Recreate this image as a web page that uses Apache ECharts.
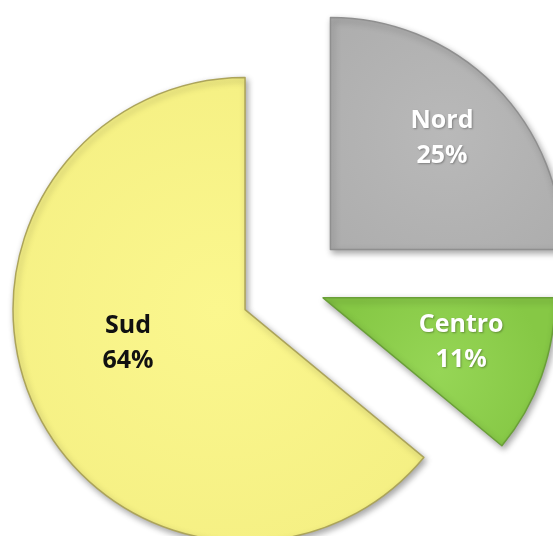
<!DOCTYPE html>
<html>
<head>
<meta charset="utf-8">
<script src="https://cdn.jsdelivr.net/npm/echarts@6/dist/echarts.min.js"></script>
<style>
html, body { margin: 0; padding: 0; background: #fff; }
#main { width: 553px; height: 536px; }
</style>
</head>
<body>
<div id="main"></div>
<script>
// dati
var regioni = ['Nord', 'Centro', 'Sud'];
var quote = [25, 11, 64];

// stile di ogni fetta
var colori = [['#b9b9b9', '#adadad'], ['#96d656', '#86c845'], ['#fbf78e', '#f4ef82']];
var bordi = ['#8f8f8f', '#6a9f38', '#aca45a'];
var coloriTesto = ['#ffffff', '#ffffff', '#111111'];
var stacco = [53, 32, 53];          // esplosione (px)
var posEtichetta = [0.68, 0.625, 0.525];
var angEtichetta = [0, -2, 9];      // gradi

var centro = [293, 287];
var raggio = 232;

var myChart = echarts.init(document.getElementById('main'));

var totale = 0;
for (var i = 0; i < quote.length; i++) totale += quote[i];

var series = [];
var cumulato = 0;
for (var i = 0; i < quote.length; i++) {
	// angolo medio, in senso orario dalle ore 12
	var theta = (cumulato + quote[i] / 2) / totale * 2 * Math.PI;
	cumulato += quote[i];
	var cx = centro[0] + stacco[i] * Math.sin(theta);
	var cy = centro[1] - stacco[i] * Math.cos(theta);
	var thetaL = theta + angEtichetta[i] * Math.PI / 180;
	var lx = cx + posEtichetta[i] * raggio * Math.sin(thetaL);
	var ly = cy - posEtichetta[i] * raggio * Math.cos(thetaL);

	var dati = [];
	for (var j = 0; j < quote.length; j++) {
		if (j == i) {
			dati.push({
				name : regioni[j],
				value : quote[j],
				itemStyle : {
					color : {
						type : 'radial', x : 0.5, y : 0.5, r : 0.7,
						colorStops : [ { offset : 0, color : colori[j][0] }, { offset : 1, color : colori[j][1] } ]
					},
					borderColor : bordi[j],
					borderWidth : 1.5,
					shadowBlur : 6,
					shadowOffsetX : 2,
					shadowOffsetY : 3,
					shadowColor : 'rgba(0,0,0,0.35)'
				},
				label : {
					show : true,
					color : coloriTesto[j],
					textShadowColor : j == 2 ? 'transparent' : 'rgba(0,0,0,0.3)',
					textShadowBlur : 2,
					textShadowOffsetX : 1,
					textShadowOffsetY : 1
				}
			});
		} else {
			dati.push({
				name : regioni[j],
				value : quote[j],
				itemStyle : { color : 'rgba(0,0,0,0)', borderWidth : 0 },
				label : { show : false }
			});
		}
	}

	series.push({
		type : 'pie',
		center : [ cx, cy ],
		radius : [ 0, raggio ],
		startAngle : 90,
		clockwise : true,
		silent : true,
		emphasis : { disabled : true },
		labelLine : { show : false },
		label : {
			position : 'inside',
			formatter : '{b}\n{d}%',
			fontFamily : 'Open Sans',
			fontWeight : 'bold',
			fontSize : 25,
			lineHeight : 35,
			align : 'center'
		},
		labelLayout : (function(k, x, y) {
			return function(params) {
				if (params.dataIndex != k) return;
				return { x : x, y : y, align : 'center', verticalAlign : 'middle' };
			};
		})(i, lx, ly),
		data : dati
	});
}

var option = {
	animation : false,
	backgroundColor : '#ffffff',
	series : series
};

myChart.setOption(option);
</script>
</body>
</html>
